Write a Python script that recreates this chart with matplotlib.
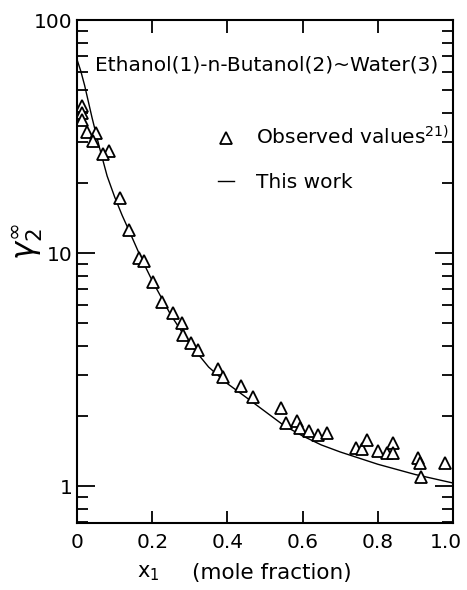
import matplotlib
matplotlib.use("Agg")
import matplotlib.pyplot as plt
import matplotlib.transforms as mtransforms
from matplotlib.ticker import LogLocator, NullFormatter, FixedLocator

plt.rcParams["font.family"] = ["DejaVu Sans"]
plt.rcParams["mathtext.fontset"] = "dejavusans"

# --- observed values (ref. 21) ---
x_obs = [0.013, 0.013, 0.013, 0.027, 0.050, 0.043, 0.085, 0.069,
         0.114, 0.138, 0.165, 0.178, 0.202, 0.226, 0.255, 0.279,
         0.282, 0.303, 0.322, 0.375, 0.388, 0.436, 0.468, 0.543,
         0.556, 0.585, 0.593, 0.617, 0.641, 0.665, 0.742, 0.758,
         0.771, 0.801, 0.824, 0.840, 0.840, 0.907, 0.912, 0.979,
         0.915]
g_obs = [42.8, 39.9, 37.2, 33.0, 32.7, 30.2, 27.4, 26.6,
         17.2, 12.6, 9.5, 9.2, 7.5, 6.16, 5.53, 5.01,
         4.45, 4.11, 3.83, 3.18, 2.94, 2.69, 2.41, 2.16,
         1.86, 1.90, 1.77, 1.72, 1.66, 1.69, 1.46, 1.44,
         1.58, 1.41, 1.39, 1.53, 1.39, 1.32, 1.26, 1.26,
         1.09]

# --- this work (model curve) ---
x_calc = [0.0, 0.01, 0.02, 0.04, 0.06, 0.08, 0.10, 0.12, 0.14, 0.17,
          0.20, 0.25, 0.30, 0.35, 0.40, 0.45, 0.50, 0.55, 0.60, 0.65,
          0.70, 0.80, 0.90, 1.0]
g_calc = [67.6, 60.3, 52.5, 38.0, 28.2, 21.4, 17.4, 14.5, 12.3, 9.55,
          7.6, 5.4, 4.07, 3.24, 2.75, 2.40, 2.09, 1.82, 1.64, 1.50,
          1.40, 1.24, 1.12, 1.03]

x_ticks = [0, 0.2, 0.4, 0.6, 0.8, 1.0]
x_ticklabels = ["0", "0.2", "0.4", "0.6", "0.8", "1.0"]
y_ticks = [1, 10, 100]
y_ticklabels = ["1", "10", "100"]

fig = plt.figure(figsize=(4.67, 5.90), dpi=100)
ax = fig.add_axes([0.165, 0.1136, 0.805, 0.8525])

ax.plot(x_calc, g_calc, color="black", lw=1.0, label="This work")
ax.plot(x_obs, g_obs, ls="none", marker="^", ms=9, mfc="white",
        mec="black", mew=1.3, label="Observed values$^{21)}$")

ax.set_yscale("log")
ax.set_xlim(0, 1.0)
ax.set_ylim(0.694, 100)

ax.set_xticks(x_ticks)
ax.set_xticklabels(x_ticklabels)
ax.yaxis.set_major_locator(FixedLocator(y_ticks))
ax.set_yticklabels(y_ticklabels)
ax.yaxis.set_minor_locator(LogLocator(base=10, subs=range(2, 10)))
ax.yaxis.set_minor_formatter(NullFormatter())

ax.tick_params(axis="both", which="both", direction="in",
               top=True, right=True, labelsize=14.5, width=1.3)
ax.tick_params(axis="x", which="major", length=9, pad=7)
ax.tick_params(axis="y", which="major", length=13, pad=3)
ax.tick_params(axis="y", which="minor", length=8)
for s in ax.spines.values():
    s.set_linewidth(1.5)

# nudge the "1.0" label left so it stays inside the figure
last = ax.get_xticklabels()[-1]
last.set_transform(last.get_transform() +
                   mtransforms.ScaledTranslation(-5 / 72, 0, fig.dpi_scale_trans))

ax.set_ylabel(r"$\gamma_2^{\infty}$", fontsize=22)
ax.yaxis.set_label_coords(-0.085, 0.56)

# x-axis label in two parts
ax.text(0.189, -0.1, r"x$_1$", transform=ax.transAxes,
        ha="center", va="center", fontsize=15)
ax.text(0.519, -0.1, "(mole fraction)", transform=ax.transAxes,
        ha="center", va="center", fontsize=15.5)

ax.text(0.048, 0.91, "Ethanol(1)-n-Butanol(2)~Water(3)",
        transform=ax.transAxes, ha="left", va="center", fontsize=14.5)

h, l = ax.get_legend_handles_labels()
ax.legend(h[::-1], l[::-1], loc="upper left", bbox_to_anchor=(0.375, 0.79),
          frameon=False, fontsize=14.5, handlelength=0.8, handletextpad=1.1,
          labelspacing=1.2, borderpad=0, borderaxespad=0)

fig.savefig("out.png", dpi=100)
